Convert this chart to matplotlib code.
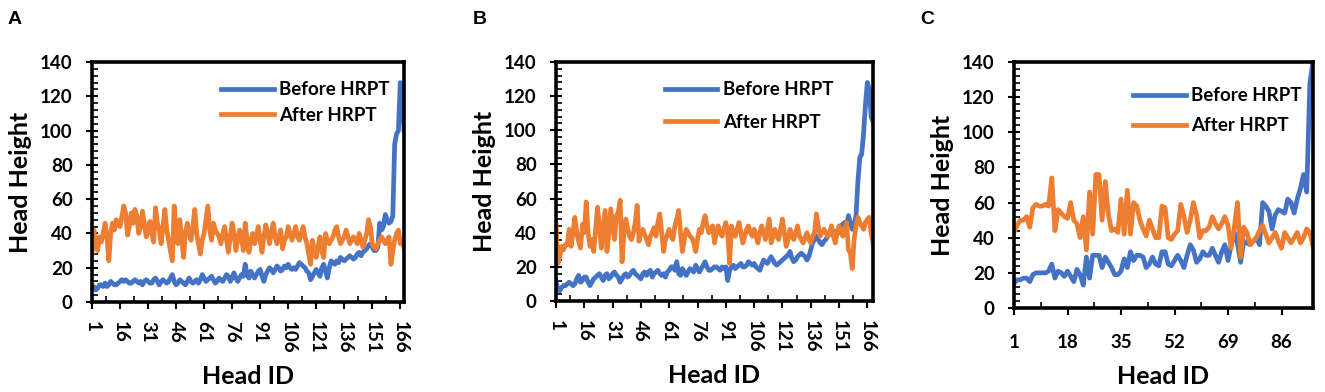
import matplotlib
matplotlib.use("Agg")
import matplotlib.pyplot as plt
from matplotlib.ticker import MultipleLocator
import numpy as np

plt.rcParams['font.family'] = ['Lato', 'DejaVu Sans']
plt.rcParams['font.weight'] = 'bold'

BLUE = '#4472C4'
ORANGE = '#ED7D31'

# panel A: 168 heads
before_a = [8, 9, 7, 8, 10, 10, 9, 11, 9, 10, 12, 11, 10, 10, 11, 12, 13, 12, 13, 12,
            11, 11, 12, 13, 12, 11, 12, 10, 12, 13, 12, 11, 11, 13, 14, 12, 10, 12, 13, 12,
            11, 12, 14, 16, 12, 10, 11, 13, 12, 11, 10, 12, 14, 12, 11, 12, 13, 11, 13, 16,
            14, 12, 13, 14, 15, 13, 11, 12, 14, 13, 12, 14, 16, 15, 12, 14, 17, 14, 12, 14,
            16, 15, 22, 16, 14, 18, 16, 14, 16, 18, 19, 15, 12, 16, 18, 20, 19, 17, 19, 21,
            20, 18, 19, 21, 20, 22, 20, 19, 20, 19, 21, 23, 22, 21, 20, 18, 17, 13, 15, 17,
            19, 17, 15, 20, 22, 18, 14, 20, 24, 23, 22, 24, 23, 26, 25, 24, 25, 26, 27, 26,
            25, 26, 28, 29, 27, 29, 30, 31, 33, 34, 32, 30, 30, 32, 46, 42, 44, 51, 48, 46,
            47, 50, 92, 98, 100, 128, 118, 100]
after_a = [28, 42, 34, 30, 38, 35, 40, 46, 38, 24, 40, 46, 42, 48, 45, 44, 50, 56, 52, 39,
           44, 52, 46, 54, 50, 40, 44, 53, 46, 38, 42, 47, 40, 35, 55, 46, 42, 34, 44, 54,
           42, 36, 30, 24, 56, 42, 34, 48, 38, 26, 40, 46, 40, 36, 44, 54, 40, 34, 28, 36,
           40, 48, 56, 42, 36, 46, 42, 40, 38, 34, 40, 44, 36, 29, 38, 46, 40, 30, 36, 42,
           38, 30, 46, 36, 29, 36, 40, 34, 38, 44, 36, 29, 38, 45, 40, 34, 40, 46, 38, 34,
           38, 42, 31, 36, 38, 44, 40, 36, 40, 44, 38, 36, 40, 44, 38, 34, 28, 22, 36, 30,
           26, 32, 38, 30, 26, 40, 36, 34, 36, 38, 42, 44, 38, 34, 36, 38, 42, 38, 34, 36,
           38, 36, 34, 40, 36, 32, 36, 40, 48, 44, 34, 32, 31, 34, 36, 38, 36, 34, 36, 38,
           22, 30, 36, 40, 42, 34, 36, 32]

# panel B: 169 heads
before_b = [12, 7, 6, 8, 9, 9, 10, 11, 10, 9, 10, 13, 15, 11, 12, 14, 14, 11, 9, 11,
            13, 14, 15, 16, 14, 12, 15, 16, 13, 14, 16, 17, 15, 14, 11, 13, 15, 16, 14, 15,
            17, 18, 16, 15, 14, 13, 16, 17, 15, 17, 18, 14, 16, 17, 18, 16, 15, 16, 14, 17,
            18, 20, 20, 18, 23, 16, 15, 19, 17, 15, 17, 19, 18, 17, 21, 19, 17, 19, 21, 23,
            20, 18, 18, 19, 20, 20, 19, 18, 20, 19, 20, 12, 18, 20, 21, 19, 20, 21, 22, 20,
            20, 21, 23, 22, 21, 22, 20, 19, 18, 21, 24, 23, 22, 24, 26, 24, 22, 21, 22, 23,
            24, 25, 26, 27, 29, 25, 23, 24, 26, 27, 28, 27, 26, 24, 26, 30, 34, 36, 38, 36,
            34, 33, 35, 36, 38, 39, 40, 41, 40, 41, 42, 44, 45, 46, 44, 50, 46, 42, 44, 50,
            70, 84, 86, 98, 115, 128, 124, 108, 105]
after_b = [45, 22, 26, 32, 30, 33, 33, 42, 32, 40, 49, 40, 35, 31, 45, 40, 58, 40, 32, 36,
           29, 42, 55, 44, 31, 42, 53, 29, 40, 54, 45, 36, 50, 52, 59, 23, 40, 48, 42, 38,
           36, 40, 46, 56, 35, 40, 42, 39, 36, 33, 38, 40, 43, 38, 46, 51, 40, 29, 36, 39,
           42, 38, 36, 44, 48, 53, 40, 29, 36, 42, 40, 38, 37, 34, 29, 36, 42, 40, 46, 50,
           44, 40, 42, 44, 34, 40, 44, 40, 38, 42, 46, 40, 22, 44, 40, 38, 42, 46, 40, 34,
           38, 42, 44, 40, 38, 42, 38, 34, 40, 44, 40, 36, 42, 48, 34, 38, 42, 38, 36, 42,
           48, 40, 32, 36, 42, 38, 36, 40, 44, 38, 36, 34, 37, 40, 36, 34, 38, 40, 51, 44,
           38, 40, 42, 40, 38, 40, 44, 38, 34, 40, 44, 40, 38, 42, 46, 30, 28, 19, 36, 44,
           49, 46, 44, 42, 46, 48, 49, 40, 34]

# panel C: 96 heads
before_c = [14, 16, 16, 17, 17, 15, 19, 20, 20, 20, 20, 21, 25, 17, 21, 20, 18, 21, 18, 15,
            22, 19, 13, 29, 17, 30, 30, 30, 23, 29, 26, 23, 19, 19, 21, 28, 23, 32, 27, 30,
            30, 29, 23, 25, 29, 25, 24, 32, 32, 25, 24, 27, 30, 27, 23, 30, 36, 33, 26, 28,
            32, 30, 30, 34, 30, 26, 32, 36, 27, 36, 43, 37, 26, 38, 37, 36, 38, 40, 36, 60,
            58, 55, 45, 53, 56, 55, 54, 62, 60, 54, 62, 68, 76, 66, 128, 140]
after_c = [43, 47, 50, 50, 52, 46, 57, 59, 58, 58, 59, 58, 74, 44, 56, 54, 52, 51, 60, 50,
           48, 40, 52, 33, 66, 42, 76, 76, 50, 72, 53, 44, 45, 43, 62, 42, 67, 42, 60, 58,
           50, 45, 41, 50, 45, 40, 40, 58, 57, 40, 39, 42, 44, 59, 52, 43, 50, 60, 53, 40,
           44, 44, 46, 52, 48, 45, 48, 52, 47, 34, 46, 60, 29, 46, 43, 36, 38, 40, 44, 47,
           42, 37, 40, 43, 38, 34, 43, 40, 37, 40, 43, 37, 40, 45, 43, 35]

panels = ['A', 'B', 'C']
tick_step = [15, 15, 17]

fig = plt.figure(figsize=(13.25, 3.92), dpi=100)

# axes boxes in pixels: left, right, top, bottom
boxes = [(92, 404, 62, 302), (556, 873, 62, 301), (1014, 1313, 62, 308)]
leg_anchor = [(0.955, 0.92), (0.875, 0.92), (0.962, 0.897)]
leg_space = [0.45, 0.85, 0.7]
letter_x = [8, 473, 920]
xpad = [9, 9, 14]
xlabelpad = [8, 8, 10]


def draw_panel(ax, before, after, step, rotate, anchor, spacing, pad, lpad):
    x = np.arange(1, len(before) + 1)
    ax.plot(x, before, color=BLUE, lw=3.4, label='Before HRPT', solid_joinstyle='round')
    ax.plot(x, after, color=ORANGE, lw=3.4, label='After HRPT', solid_joinstyle='round')
    ax.set_xlim(1, len(before))
    ax.set_ylim(0, 140)
    ax.yaxis.set_major_locator(MultipleLocator(20))
    ax.yaxis.set_minor_locator(MultipleLocator(4))
    ticks = np.arange(1, len(before) + 1, step)
    ax.set_xticks(ticks)
    ax.set_xticks(ticks[:-1] + step / 2, minor=True)
    if rotate:
        ax.set_xticklabels([str(t) for t in ticks], rotation=-90, va='top', ha='center')
    else:
        ax.set_xticklabels([str(t) for t in ticks])
    for s in ax.spines.values():
        s.set_linewidth(2.6)
    ax.tick_params(which='major', direction='out', length=5, width=1.5, labelsize=13.5)
    ax.tick_params(which='minor', direction='in', length=4, width=1.2)
    ax.tick_params(axis='y', which='major', direction='inout', length=8, pad=10)
    ax.tick_params(axis='x', which='major', pad=pad)
    ax.set_xlabel('Head ID', fontsize=18, fontweight='bold', labelpad=lpad)
    ax.set_ylabel('Head Height', fontsize=18, fontweight='bold', labelpad=6)
    ax.legend(loc='upper right', bbox_to_anchor=anchor, frameon=False, fontsize=13.5,
              handlelength=2.8, handletextpad=0.3, borderpad=0, borderaxespad=0,
              labelspacing=spacing)


for k in range(3):
    l, r, t, b = boxes[k]
    ax = fig.add_axes([l / 1325, (392 - b) / 392, (r - l) / 1325, (b - t) / 392])
    befores = [before_a, before_b, before_c][k]
    afters = [after_a, after_b, after_c][k]
    draw_panel(ax, befores, afters, tick_step[k], k < 2, leg_anchor[k], leg_space[k],
               xpad[k], xlabelpad[k])
    fig.text(letter_x[k] / 1325, 1 - 11 / 392, panels[k], fontsize=14, fontweight='bold',
             family=['Liberation Sans', 'DejaVu Sans'], va='top', ha='left')

fig.savefig('out.png', dpi=100)
